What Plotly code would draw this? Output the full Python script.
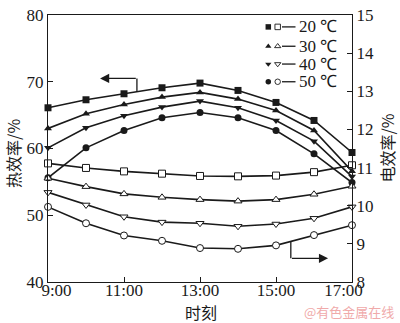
import plotly.graph_objects as go

# Hour of day for each measurement
hours = [9, 10, 11, 12, 13, 14, 15, 16, 17]
tick_hours = [9, 11, 13, 15, 17]
tick_labels = ["9:00", "11:00", "13:00", "15:00", "17:00"]

# Thermal efficiency, % (left axis)
thermal_20 = [66.1, 67.3, 68.2, 69.1, 69.8, 68.7, 66.9, 64.2, 59.4]
thermal_30 = [63.0, 65.2, 66.6, 67.7, 68.4, 67.4, 65.7, 62.7, 56.6]
thermal_40 = [60.1, 63.1, 64.9, 66.2, 67.1, 66.1, 64.2, 61.1, 55.8]
thermal_50 = [55.6, 60.1, 62.7, 64.6, 65.4, 64.6, 62.7, 59.2, 54.9]

# Electrical efficiency, % (right axis)
electrical_20 = [11.11, 10.99, 10.90, 10.84, 10.78, 10.77, 10.79, 10.88, 11.06]
electrical_30 = [10.72, 10.50, 10.31, 10.22, 10.16, 10.12, 10.16, 10.30, 10.51]
electrical_40 = [10.35, 10.02, 9.71, 9.57, 9.54, 9.46, 9.52, 9.67, 9.97]
electrical_50 = [9.97, 9.54, 9.22, 9.08, 8.89, 8.87, 8.96, 9.23, 9.49]

temps = ["20 ℃", "30 ℃", "40 ℃", "50 ℃"]
symbols = ["square", "triangle-up", "triangle-down", "circle"]
thermal = [thermal_20, thermal_30, thermal_40, thermal_50]
electrical = [electrical_20, electrical_30, electrical_40, electrical_50]

INK = "#1a1a1a"
NUM_FONT = "Liberation Serif"
CJK_FONT = "Noto Sans CJK SC"

W, H = 400, 323
ML, MR, MT, MB = 48, 48, 6, 41

# Nudge the two end labels inward so they clear the y-axis numbers
NBSP = "\u00a0"
x_ticktext = list(tick_labels)
x_ticktext[0] = NBSP * 4 + x_ticktext[0]
x_ticktext[-1] = x_ticktext[-1] + NBSP * 4

fig = go.Figure()

for sym, th, el in zip(symbols, thermal, electrical):
    fig.add_trace(go.Scatter(
        x=hours, y=th, mode="lines+markers", yaxis="y", cliponaxis=False,
        line=dict(color=INK, width=1.6),
        marker=dict(symbol=sym, size=7, color=INK, line=dict(color=INK, width=0)),
        showlegend=False))
    fig.add_trace(go.Scatter(
        x=hours, y=el, mode="lines+markers", yaxis="y2", cliponaxis=False,
        line=dict(color=INK, width=1.6),
        marker=dict(symbol=sym, size=7, color="white", line=dict(color=INK, width=1)),
        showlegend=False))

# Hand-built legend on a pixel-scaled overlay axis
leg_rows = [18.3, 38.3, 56.7, 75.0]
for sym, ry in zip(symbols, leg_rows):
    fig.add_trace(go.Scatter(
        x=[268.3], y=[ry], xaxis="x2", yaxis="y3", mode="markers", cliponaxis=False,
        marker=dict(symbol=sym, size=5.5, color=INK, line=dict(width=0)),
        showlegend=False, hoverinfo="skip"))
    fig.add_trace(go.Scatter(
        x=[277.7], y=[ry], xaxis="x2", yaxis="y3", mode="markers", cliponaxis=False,
        marker=dict(symbol=sym, size=5.5, color="white", line=dict(color=INK, width=0.9)),
        showlegend=False, hoverinfo="skip"))

shapes = []
annotations = []
for label, ry in zip(temps, leg_rows):
    shapes.append(dict(type="line", xref="x2", yref="y3", x0=282, x1=295.5, y0=ry, y1=ry,
                       line=dict(color=INK, width=1.3)))
    annotations.append(dict(xref="x2", yref="y3", x=296.5, y=ry, text=label, showarrow=False,
                            xanchor="left", yanchor="middle",
                            font=dict(family=NUM_FONT, size=17, color=INK)))

# Arrow pointing to the thermal (left) axis
shapes.append(dict(type="line", xref="x", yref="y", x0=11.34, x1=11.34, y0=68.45, y1=70.5,
                   line=dict(color=INK, width=1.3)))
annotations.append(dict(xref="x", yref="y", axref="x", ayref="y", x=10.37, y=70.5,
                        ax=11.35, ay=70.5, showarrow=True, arrowhead=2, arrowsize=1.4,
                        arrowwidth=1.3, arrowcolor=INK, text=""))
# Arrow pointing to the electrical (right) axis
shapes.append(dict(type="line", xref="x", yref="y2", x0=15.39, x1=15.39, y0=9.06, y1=8.62,
                   line=dict(color=INK, width=1.3)))
annotations.append(dict(xref="x", yref="y2", axref="x", ayref="y2", x=16.37, y=8.62,
                        ax=15.38, ay=8.62, showarrow=True, arrowhead=2, arrowsize=1.4,
                        arrowwidth=1.3, arrowcolor=INK, text=""))

# Axis titles and credit line
annotations += [
    dict(xref="paper", yref="paper", x=-0.115, y=0.48, text="热效率/%", textangle=-90,
         xanchor="center", yanchor="middle",
         showarrow=False, font=dict(family=CJK_FONT, size=16, color=INK)),
    dict(xref="paper", yref="paper", x=1.112, y=0.50, text="电效率/%", textangle=-90,
         xanchor="center", yanchor="middle",
         showarrow=False, font=dict(family=CJK_FONT, size=16, color=INK)),
    dict(xref="paper", yref="paper", x=0.503, y=-0.111, text="时刻",
         xanchor="center", yanchor="middle",
         showarrow=False, font=dict(family=CJK_FONT, size=16, color=INK)),
    dict(xref="paper", yref="paper", x=0.99, y=-0.111, text="@有色金属在线",
         xanchor="center", yanchor="middle",
         showarrow=False, font=dict(family=CJK_FONT, size=13, color="#f0aaaa")),
]

axis_common = dict(showgrid=False, zeroline=False, showline=True, linecolor=INK, linewidth=1.4,
                   ticks="inside", ticklen=5, tickwidth=1.2, tickcolor=INK,
                   ticklabeloverflow="allow",
                   tickfont=dict(family=NUM_FONT, size=17, color=INK))

fig.update_layout(
    width=W, height=H,
    margin=dict(l=ML, r=MR, t=MT, b=MB),
    paper_bgcolor="white", plot_bgcolor="white",
    xaxis=dict(range=[9, 17], tickvals=tick_hours, ticktext=x_ticktext, mirror=True,
               ticklabelstandoff=-8, **axis_common),
    yaxis=dict(range=[40, 80], tickvals=[40, 50, 60, 70, 80], **axis_common),
    yaxis2=dict(range=[8, 15], tickvals=list(range(8, 16)), overlaying="y", side="right",
                **axis_common),
    xaxis2=dict(range=[ML, W - MR], overlaying="x", visible=False),
    yaxis3=dict(range=[H - MB, MT], overlaying="y", visible=False),
    shapes=shapes,
    annotations=annotations,
    showlegend=False,
)

fig.write_html("out.html")
